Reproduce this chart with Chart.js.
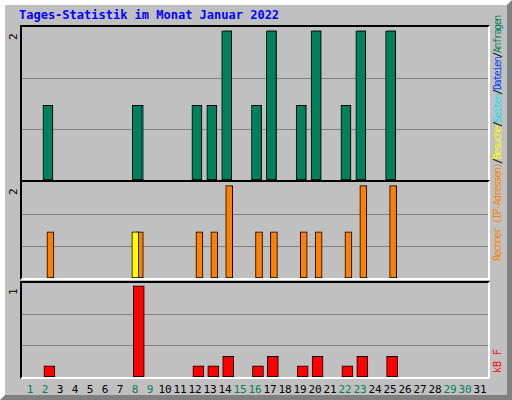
<!DOCTYPE html>
<html>
<head>
<meta charset="UTF-8">
<title>Tages-Statistik</title>
<script src="https://cdn.jsdelivr.net/npm/chart.js"></script>
<style>
  body { margin: 0; background: #fff; }
  #frame {
    position: absolute; left: 0; top: 0; width: 502px; height: 390px;
    background: #c0c0c0;
    border-left: 5px solid #fff; border-top: 5px solid #fff;
    border-right: 5px solid #808080; border-bottom: 5px solid #808080;
    font-family: "DejaVu Sans Mono", monospace;
  }
  .panel { position: absolute; left: 15px; width: 466px; border-top: 2px solid #000; border-left: 2px solid #000; border-bottom: 2px solid #fff; border-right: 2px solid #fff; }
  .panel canvas { position: absolute; left: 0; top: 0; }
  #title { position: absolute; left: 14px; top: 3px; color: #0000ff; font-weight: bold; font-size: 12px; }
  .ymax { position: absolute; left: 2px; font-size: 11px; transform: rotate(-90deg); transform-origin: left top; }
  .side { position: absolute; font-size: 10px; white-space: nowrap; transform: rotate(-90deg); transform-origin: left top; letter-spacing: -1.4px; }
  #days { position: absolute; left: 15px; top: 378px; width: 470px; font-size: 11px; }
  #days span { position: absolute; width: 16px; text-align: center; }
</style>
</head>
<body>
<div id="frame">
  <div id="title">Tages-Statistik im Monat Januar 2022</div>
  <div class="ymax" style="top:35px">2</div>
  <div class="ymax" style="top:190px">2</div>
  <div class="ymax" style="top:290px">1</div>
  <div class="panel" style="top:20px;height:153px"><canvas id="c1"></canvas></div>
  <div class="panel" style="top:175px;height:96px"><canvas id="c2"></canvas></div>
  <div class="panel" style="top:276px;height:94px"><canvas id="c3"></canvas></div>
  <div class="side" style="left:487px;top:256px"><span style="color:#ff8000">Rechner (IP-Adressen)</span><span style="color:#000">/</span><span style="color:#ffff00">Besuche</span><span style="color:#000">/</span><span style="color:#00e0ff">Seiten</span><span style="color:#000">/</span><span style="color:#0040ff">Dateien</span><span style="color:#000">/</span><span style="color:#00805c">Anfragen</span></div>
  <div class="side" style="left:487px;top:368px;color:#ff0000;letter-spacing:0">kB F</div>
  <div id="days"></div>
</div>
<script>
  const days = Array.from({length: 31}, (_, i) => i + 1);
  const weekendDays = [1, 2, 8, 9, 15, 16, 22, 23, 29, 30];
  const hits   = [0,1,0,0,0,0,0,1,0,0,0,1,1,2,0,1,2,0,1,2,0,1,2,0,2,0,0,0,0,0,0];
  const files  = [0,1,0,0,0,0,0,0,0,0,0,1,1,2,0,1,2,0,1,2,0,1,2,0,2,0,0,0,0,0,0];
  const pages  = [0,0,0,0,0,0,0,1,0,0,0,0,0,0,0,0,0,0,0,0,0,0,0,0,0,0,0,0,0,0,0];
  const visits = [0,0,0,0,0,0,0,1,0,0,0,0,0,0,0,0,0,0,0,0,0,0,0,0,0,0,0,0,0,0,0];
  const sites  = [0,1,0,0,0,0,0,1,0,0,0,1,1,2,0,1,1,0,1,1,0,1,2,0,2,0,0,0,0,0,0];
  const kbytes = [0,0.12,0,0,0,0,0,0.97,0,0,0,0.12,0.12,0.22,0,0.12,0.22,0,0.12,0.22,0,0.12,0.22,0,0.22,0,0,0,0,0,0];

  // day labels
  const daysDiv = document.getElementById('days');
  days.forEach(d => {
    const s = document.createElement('span');
    s.textContent = d;
    s.style.left = ((d - 0.33) * 15 - 8) + 'px';
    s.style.color = weekendDays.includes(d) ? '#00805c' : '#000';
    daysDiv.appendChild(s);
  });

  function series(values, offset, color, width, order) {
    return {
      data: values.map((v, i) => ({x: days[i] + offset, y: v})),
      backgroundColor: color, borderColor: '#000', borderWidth: 1,
      barThickness: width, order: order, borderSkipped: false
    };
  }

  function makeChart(id, w, h, max, datasets) {
    const cv = document.getElementById(id);
    cv.width = w; cv.height = h;
    new Chart(cv, {
      type: 'bar',
      data: { datasets: datasets },
      options: {
        responsive: false, animation: false,
        layout: { padding: 0 },
        datasets: { bar: { grouped: false } },
        plugins: { legend: { display: false }, tooltip: { enabled: false } },
        scales: {
          x: { type: 'linear', offset: false, min: 0.33 - 1 / 15, max: 31.67 - 2 / 15, display: false },
          y: {
            min: 0, max: max,
            afterFit: s => { s.width = 0; },
            afterBuildTicks: s => { s.ticks = [{value: max / 3}, {value: 2 * max / 3}]; },
            ticks: { display: false },
            border: { display: false },
            grid: { color: '#808080', lineWidth: 1, drawTicks: false }
          }
        }
      }
    });
  }

  makeChart('c1', 466, 153, 2.05, [
    series(hits, 0, '#00805c', 10, 1),
    series(files, 0.07, '#0040ff', 8, 2),
    series(pages, 0.17, '#00e0ff', 7, 3)
  ]);
  makeChart('c2', 466, 96, 2.08, [
    series(visits, -0.13, '#ffff00', 7, 1),
    series(sites, 0.17, '#ff8000', 7, 2)
  ]);
  makeChart('c3', 466, 94, 1.0, [
    series(kbytes, 0.1, '#ff0000', 11, 1)
  ]);
</script>
</body>
</html>
